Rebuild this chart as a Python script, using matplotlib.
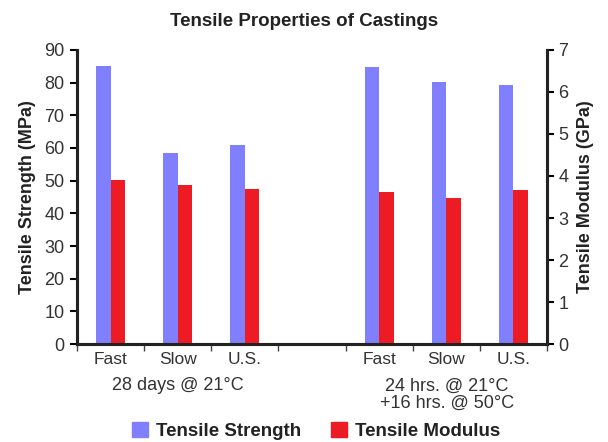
import numpy as np
import matplotlib.pyplot as plt
from matplotlib.patches import Patch

plt.rcParams["font.family"] = ["Liberation Sans", "DejaVu Sans"]

# Data
categories = ["Fast", "Slow", "U.S.", "", "Fast", "Slow", "U.S."]
groups = ["28 days @ 21°C", "24 hrs. @ 21°C\n+16 hrs. @ 50°C"]
strength = [85.1, 58.5, 60.9, None, 84.8, 80.2, 79.3]     # MPa
modulus = [3.90, 3.78, 3.70, None, 3.63, 3.47, 3.66]      # GPa

blue = "#8080FF"
red = "#ED1C24"
dark = "#222222"

fig = plt.figure(figsize=(6.08, 4.42), dpi=100)
ax = fig.add_axes([0.1266, 0.2217, 0.7731, 0.6652])
ax2 = ax.twinx()

x = np.arange(len(categories))
w = 0.216
for i in range(len(categories)):
    if strength[i] is None:
        continue
    ax.bar(x[i] - w / 2, strength[i], width=w, color=blue, zorder=2)
    ax2.bar(x[i] + w / 2, modulus[i], width=w, color=red, zorder=2)

ax.set_xlim(-0.5, len(categories) - 0.5)
ax.set_ylim(0, 90)
ax2.set_ylim(0, 7)
ax.set_yticks(range(0, 91, 10))
ax2.set_yticks(range(0, 8))

# tick marks at slot boundaries, labels at centres
ax.set_xticks(np.arange(-0.5, len(categories), 1.0))
ax.set_xticklabels([])
ax.set_xticks(x, minor=True)
ax.set_xticklabels(categories, minor=True)
ax.tick_params(axis="x", which="major", length=5, width=1, color="#444444", direction="out")
ax.tick_params(axis="x", which="minor", length=0, pad=6, labelsize=12.5, labelcolor="#333333")
ax.tick_params(axis="y", length=5, width=1.5, labelsize=13, labelcolor="#333333", pad=4)
ax2.tick_params(axis="y", length=5, width=1.5, labelsize=13, labelcolor="#333333", pad=3)

for a in (ax, ax2):
    a.spines["top"].set_visible(False)
    for s in ("left", "right", "bottom"):
        a.spines[s].set_linewidth(2.2)
        a.spines[s].set_color(dark)

ax.set_ylabel("Tensile Strength (MPa)", fontsize=13, fontweight="bold", color=dark, labelpad=6)
ax2.set_ylabel("Tensile Modulus (GPa)", fontsize=13, fontweight="bold", color=dark,
               rotation=90, labelpad=6)

fig.suptitle("Tensile Properties of Castings", fontsize=13.5, fontweight="bold",
             color=dark, y=0.97)

# group labels
fig.text(0.292, 0.128, groups[0], ha="center", va="center", fontsize=13, color="#333333")
fig.text(0.735, 0.106, groups[1], ha="center", va="center", fontsize=13, color="#333333",
         linespacing=1.0)

handles = [Patch(color=blue, label="Tensile Strength"),
           Patch(color=red, label="Tensile Modulus")]
leg = fig.legend(handles=handles, loc="center", bbox_to_anchor=(0.52, 0.025), ncol=2,
                 frameon=False, prop={"weight": "bold", "size": 13.5},
                 handlelength=0.85, handleheight=0.85, handletextpad=0.45, columnspacing=1.6)
for t in leg.get_texts():
    t.set_color(dark)

fig.savefig("out.png", dpi=100)
